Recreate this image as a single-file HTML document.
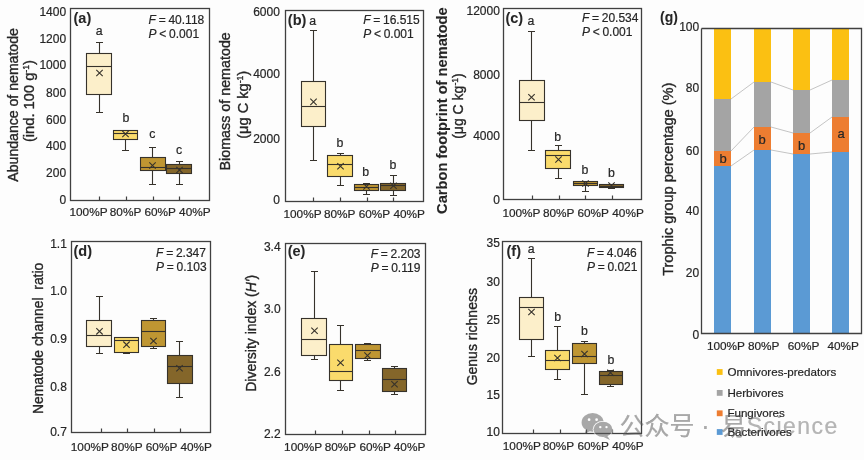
<!DOCTYPE html>
<html><head><meta charset="utf-8"><title>figure</title>
<style>html,body{margin:0;padding:0;background:#fdfdfd;} svg{display:block;}</style>
</head><body>
<svg width="864" height="460" viewBox="0 0 864 460" font-family='"Liberation Sans", Arial, sans-serif' fill="#262626">
<style>text{stroke:#262626;stroke-width:0.2px;}</style>
<rect x="0" y="0" width="864" height="460" fill="#fdfdfd"/>
<path d="M99.5 53.5V42.5M96 42.5H103" stroke="#36322b" stroke-width="1.1" fill="none"/>
<path d="M99.5 94.5V112.5M96 112.5H103" stroke="#36322b" stroke-width="1.1" fill="none"/>
<rect x="86.5" y="53.5" width="25" height="41" fill="#FCEFCA" stroke="#36322b" stroke-width="1.1"/>
<path d="M86.5 66.5H111.5" stroke="#36322b" stroke-width="1.1"/>
<path d="M96.3 69.8L102.7 76.2M96.3 76.2L102.7 69.8" stroke="#36322b" stroke-width="1.1"/>
<path d="M125.5 139.5V150.5M122 150.5H129" stroke="#36322b" stroke-width="1.1" fill="none"/>
<rect x="113.5" y="130.5" width="24" height="9" fill="#FADB6C" stroke="#36322b" stroke-width="1.1"/>
<path d="M113.5 133.5H137.5" stroke="#36322b" stroke-width="1.1"/>
<path d="M122.3 130.8L128.7 137.2M122.3 137.2L128.7 130.8" stroke="#36322b" stroke-width="1.1"/>
<path d="M152.5 157.5V147.5M149 147.5H156" stroke="#36322b" stroke-width="1.1" fill="none"/>
<path d="M152.5 170.5V184.5M149 184.5H156" stroke="#36322b" stroke-width="1.1" fill="none"/>
<rect x="140.5" y="157.5" width="25" height="13" fill="#BF9632" stroke="#36322b" stroke-width="1.1"/>
<path d="M140.5 167.5H165.5" stroke="#36322b" stroke-width="1.1"/>
<path d="M149.3 162.3L155.7 168.7M149.3 168.7L155.7 162.3" stroke="#36322b" stroke-width="1.1"/>
<path d="M179.5 164.5V161.5M176 161.5H183" stroke="#36322b" stroke-width="1.1" fill="none"/>
<path d="M179.5 173.5V184.5M176 184.5H183" stroke="#36322b" stroke-width="1.1" fill="none"/>
<rect x="166.5" y="164.5" width="25" height="9" fill="#84662A" stroke="#36322b" stroke-width="1.1"/>
<path d="M166.5 168.5H191.5" stroke="#36322b" stroke-width="1.1"/>
<path d="M176.3 166.8L182.7 173.2M176.3 173.2L182.7 166.8" stroke="#36322b" stroke-width="1.1"/>
<rect x="70.5" y="8.5" width="139" height="192" fill="none" stroke="#404040" stroke-width="1.3"/>
<path d="M99.5 200.5V196.5M126.5 200.5V196.5M153.5 200.5V196.5M179.5 200.5V196.5" stroke="#404040" stroke-width="1.2"/>
<text x="99.25" y="34.55" font-size="12.3" text-anchor="middle" >a</text>
<text x="125.9" y="122.4" font-size="12.3" text-anchor="middle" >b</text>
<text x="152.3" y="138.3" font-size="12.3" text-anchor="middle" >c</text>
<text x="179" y="154.05" font-size="12.3" text-anchor="middle" >c</text>
<text x="73.5" y="23.2" font-size="14.5" text-anchor="start" font-weight="bold" style="stroke-width:0.05px">(a)</text>
<text x="148.6" y="23.8" font-size="12" text-anchor="start" word-spacing="-0.6"><tspan font-style="italic">F</tspan> = 40.118</text>
<text x="148.6" y="37.8" font-size="12" text-anchor="start" word-spacing="-0.6"><tspan font-style="italic">P</tspan> &lt; 0.001</text>
<text x="66.1" y="15.55" font-size="12" text-anchor="end" >1400</text>
<text x="66.1" y="43.05" font-size="12" text-anchor="end" >1200</text>
<text x="66.1" y="69.1" font-size="12" text-anchor="end" >1000</text>
<text x="66.1" y="96.8" font-size="12" text-anchor="end" >800</text>
<text x="66.1" y="123.8" font-size="12" text-anchor="end" >600</text>
<text x="66.1" y="150.3" font-size="12" text-anchor="end" >400</text>
<text x="66.1" y="176.8" font-size="12" text-anchor="end" >200</text>
<text x="66.1" y="203.8" font-size="12" text-anchor="end" >0</text>
<text x="69.5" y="216.2" font-size="11.8" text-anchor="start" >100%P</text>
<text x="109.8" y="216.2" font-size="11.8" text-anchor="start" >80%P</text>
<text x="144.5" y="216.2" font-size="11.8" text-anchor="start" >60%P</text>
<text x="179.1" y="216.2" font-size="11.8" text-anchor="start" >40%P</text>
<path d="M313.5 81.5V30.5M310 30.5H317" stroke="#36322b" stroke-width="1.1" fill="none"/>
<path d="M313.5 126.5V160.5M310 160.5H317" stroke="#36322b" stroke-width="1.1" fill="none"/>
<rect x="301.5" y="81.5" width="24" height="45" fill="#FCEFCA" stroke="#36322b" stroke-width="1.1"/>
<path d="M301.5 106.5H325.5" stroke="#36322b" stroke-width="1.1"/>
<path d="M310.3 98.7L316.7 105.1M310.3 105.1L316.7 98.7" stroke="#36322b" stroke-width="1.1"/>
<path d="M340.5 155.5V153.5M337 153.5H344" stroke="#36322b" stroke-width="1.1" fill="none"/>
<path d="M340.5 176.5V185.5M337 185.5H344" stroke="#36322b" stroke-width="1.1" fill="none"/>
<rect x="327.5" y="155.5" width="25" height="21" fill="#FADB6C" stroke="#36322b" stroke-width="1.1"/>
<path d="M327.5 164.5H352.5" stroke="#36322b" stroke-width="1.1"/>
<path d="M337.3 163.05L343.7 169.45M337.3 169.45L343.7 163.05" stroke="#36322b" stroke-width="1.1"/>
<path d="M366.5 184.5V183.5M363 183.5H370" stroke="#36322b" stroke-width="1.1" fill="none"/>
<path d="M366.5 190.5V194.5M363 194.5H370" stroke="#36322b" stroke-width="1.1" fill="none"/>
<rect x="354.5" y="184.5" width="24" height="6" fill="#BF9632" stroke="#36322b" stroke-width="1.1"/>
<path d="M354.5 187.5H378.5" stroke="#36322b" stroke-width="1.1"/>
<path d="M363.3 183.3L369.7 189.7M363.3 189.7L369.7 183.3" stroke="#36322b" stroke-width="1.1"/>
<path d="M393.5 183.5V175.5M390 175.5H397" stroke="#36322b" stroke-width="1.1" fill="none"/>
<path d="M393.5 190.5V195.5M390 195.5H397" stroke="#36322b" stroke-width="1.1" fill="none"/>
<rect x="380.5" y="183.5" width="25" height="7" fill="#84662A" stroke="#36322b" stroke-width="1.1"/>
<path d="M380.5 185.5H405.5" stroke="#36322b" stroke-width="1.1"/>
<path d="M390.3 182.55L396.7 188.95M390.3 188.95L396.7 182.55" stroke="#36322b" stroke-width="1.1"/>
<rect x="285.5" y="10.5" width="138" height="191" fill="none" stroke="#404040" stroke-width="1.3"/>
<path d="M313.5 201.5V197.5M340.5 201.5V197.5M367.5 201.5V197.5M393.5 201.5V197.5" stroke="#404040" stroke-width="1.2"/>
<text x="312.75" y="25.3" font-size="12.3" text-anchor="middle" >a</text>
<text x="340" y="146.9" font-size="12.3" text-anchor="middle" >b</text>
<text x="365.75" y="175.65" font-size="12.3" text-anchor="middle" >b</text>
<text x="393" y="169.4" font-size="12.3" text-anchor="middle" >b</text>
<text x="287.8" y="24.8" font-size="14.5" text-anchor="start" font-weight="bold" style="stroke-width:0.05px">(b)</text>
<text x="363.2" y="23.8" font-size="12" text-anchor="start" word-spacing="-0.6"><tspan font-style="italic">F</tspan> = 16.515</text>
<text x="363.2" y="37.7" font-size="12" text-anchor="start" word-spacing="-0.6"><tspan font-style="italic">P</tspan> &lt; 0.001</text>
<text x="279.85" y="15.8" font-size="12" text-anchor="end" >6000</text>
<text x="279.85" y="78.05" font-size="12" text-anchor="end" >4000</text>
<text x="279.85" y="142.55" font-size="12" text-anchor="end" >2000</text>
<text x="279.85" y="204.3" font-size="12" text-anchor="end" >0</text>
<text x="283.5" y="218.3" font-size="11.8" text-anchor="start" >100%P</text>
<text x="324" y="218.3" font-size="11.8" text-anchor="start" >80%P</text>
<text x="358.7" y="218.3" font-size="11.8" text-anchor="start" >60%P</text>
<text x="393.4" y="218.3" font-size="11.8" text-anchor="start" >40%P</text>
<path d="M531.5 80.5V31.5M528 31.5H535" stroke="#36322b" stroke-width="1.1" fill="none"/>
<path d="M531.5 120.5V150.5M528 150.5H535" stroke="#36322b" stroke-width="1.1" fill="none"/>
<rect x="519.5" y="80.5" width="25" height="40" fill="#FCEFCA" stroke="#36322b" stroke-width="1.1"/>
<path d="M519.5 102.5H544.5" stroke="#36322b" stroke-width="1.1"/>
<path d="M528.3 94.05L534.7 100.45M528.3 100.45L534.7 94.05" stroke="#36322b" stroke-width="1.1"/>
<path d="M558.5 150.5V145.5M555 145.5H562" stroke="#36322b" stroke-width="1.1" fill="none"/>
<path d="M558.5 168.5V178.5M555 178.5H562" stroke="#36322b" stroke-width="1.1" fill="none"/>
<rect x="545.5" y="150.5" width="25" height="18" fill="#FADB6C" stroke="#36322b" stroke-width="1.1"/>
<path d="M545.5 155.5H570.5" stroke="#36322b" stroke-width="1.1"/>
<path d="M555.3 156.3L561.7 162.7M555.3 162.7L561.7 156.3" stroke="#36322b" stroke-width="1.1"/>
<path d="M585.5 185.5V191.5M582 191.5H589" stroke="#36322b" stroke-width="1.1" fill="none"/>
<rect x="573.5" y="181.5" width="24" height="4" fill="#BF9632" stroke="#36322b" stroke-width="1.1"/>
<path d="M573.5 183.5H597.5" stroke="#36322b" stroke-width="1.1"/>
<path d="M582.3 180.3L588.7 186.7M582.3 186.7L588.7 180.3" stroke="#36322b" stroke-width="1.1"/>
<path d="M611.5 187.5V188.5M608 188.5H615" stroke="#36322b" stroke-width="1.1" fill="none"/>
<rect x="599.5" y="184.5" width="24" height="3" fill="#84662A" stroke="#36322b" stroke-width="1.1"/>
<path d="M599.5 186.5H623.5" stroke="#36322b" stroke-width="1.1"/>
<path d="M608.3 182.3L614.7 188.7M608.3 188.7L614.7 182.3" stroke="#36322b" stroke-width="1.1"/>
<rect x="503.5" y="8.5" width="138" height="191" fill="none" stroke="#404040" stroke-width="1.3"/>
<path d="M532.5 199.5V195.5M559.5 199.5V195.5M585.5 199.5V195.5M612.5 199.5V195.5" stroke="#404040" stroke-width="1.2"/>
<text x="531" y="25.05" font-size="12.3" text-anchor="middle" >a</text>
<text x="557.75" y="141.4" font-size="12.3" text-anchor="middle" >b</text>
<text x="585" y="174.2" font-size="12.3" text-anchor="middle" >b</text>
<text x="611.5" y="176.6" font-size="12.3" text-anchor="middle" >b</text>
<text x="505.4" y="22.9" font-size="14.5" text-anchor="start" font-weight="bold" style="stroke-width:0.05px">(c)</text>
<text x="581.9" y="22.4" font-size="12" text-anchor="start" word-spacing="-0.6"><tspan font-style="italic">F</tspan> = 20.534</text>
<text x="581.9" y="36.2" font-size="12" text-anchor="start" word-spacing="-0.6"><tspan font-style="italic">P</tspan> &lt; 0.001</text>
<text x="499.85" y="14.8" font-size="12" text-anchor="end" >12000</text>
<text x="499.85" y="78.55" font-size="12" text-anchor="end" >8000</text>
<text x="499.85" y="140.3" font-size="12" text-anchor="end" >4000</text>
<text x="499.85" y="203.8" font-size="12" text-anchor="end" >0</text>
<text x="502.4" y="216.5" font-size="11.8" text-anchor="start" >100%P</text>
<text x="542.9" y="216.5" font-size="11.8" text-anchor="start" >80%P</text>
<text x="577.4" y="216.5" font-size="11.8" text-anchor="start" >60%P</text>
<text x="612.3" y="216.5" font-size="11.8" text-anchor="start" >40%P</text>
<path d="M99.5 320.5V296.5M96 296.5H103" stroke="#36322b" stroke-width="1.1" fill="none"/>
<path d="M99.5 346.5V353.5M96 353.5H103" stroke="#36322b" stroke-width="1.1" fill="none"/>
<rect x="86.5" y="320.5" width="25" height="26" fill="#FCEFCA" stroke="#36322b" stroke-width="1.1"/>
<path d="M86.5 335.5H111.5" stroke="#36322b" stroke-width="1.1"/>
<path d="M96.3 328.1L102.7 334.5M96.3 334.5L102.7 328.1" stroke="#36322b" stroke-width="1.1"/>
<path d="M126.5 352.5V353.5M123 353.5H130" stroke="#36322b" stroke-width="1.1" fill="none"/>
<rect x="114.5" y="337.5" width="24" height="15" fill="#FADB6C" stroke="#36322b" stroke-width="1.1"/>
<path d="M114.5 340.5H138.5" stroke="#36322b" stroke-width="1.1"/>
<path d="M123.3 341.5L129.7 347.9M123.3 347.9L129.7 341.5" stroke="#36322b" stroke-width="1.1"/>
<path d="M153.5 320.5V318.5M150 318.5H157" stroke="#36322b" stroke-width="1.1" fill="none"/>
<path d="M153.5 346.5V348.5M150 348.5H157" stroke="#36322b" stroke-width="1.1" fill="none"/>
<rect x="141.5" y="320.5" width="24" height="26" fill="#BF9632" stroke="#36322b" stroke-width="1.1"/>
<path d="M141.5 331.5H165.5" stroke="#36322b" stroke-width="1.1"/>
<path d="M150.3 337.8L156.7 344.2M150.3 344.2L156.7 337.8" stroke="#36322b" stroke-width="1.1"/>
<path d="M179.5 355.5V341.5M176 341.5H183" stroke="#36322b" stroke-width="1.1" fill="none"/>
<path d="M179.5 383.5V397.5M176 397.5H183" stroke="#36322b" stroke-width="1.1" fill="none"/>
<rect x="167.5" y="355.5" width="25" height="28" fill="#84662A" stroke="#36322b" stroke-width="1.1"/>
<path d="M167.5 366.5H192.5" stroke="#36322b" stroke-width="1.1"/>
<path d="M176.3 365.05L182.7 371.45M176.3 371.45L182.7 365.05" stroke="#36322b" stroke-width="1.1"/>
<rect x="71.5" y="241.5" width="139" height="191" fill="none" stroke="#404040" stroke-width="1.3"/>
<path d="M101.5 432.5V428.5M127.5 432.5V428.5M154.5 432.5V428.5M180.5 432.5V428.5" stroke="#404040" stroke-width="1.2"/>
<text x="73.5" y="255.7" font-size="14.5" text-anchor="start" font-weight="bold" style="stroke-width:0.05px">(d)</text>
<text x="156.1" y="256.6" font-size="12" text-anchor="start" word-spacing="-0.6"><tspan font-style="italic">F</tspan> = 2.347</text>
<text x="156.1" y="270.8" font-size="12" text-anchor="start" word-spacing="-0.6"><tspan font-style="italic">P</tspan> = 0.103</text>
<text x="66.85" y="248.05" font-size="12" text-anchor="end" >1.1</text>
<text x="66.85" y="295.05" font-size="12" text-anchor="end" >1.0</text>
<text x="66.85" y="343.05" font-size="12" text-anchor="end" >0.9</text>
<text x="66.85" y="390.55" font-size="12" text-anchor="end" >0.8</text>
<text x="66.85" y="435.55" font-size="12" text-anchor="end" >0.7</text>
<text x="70.8" y="450.7" font-size="11.8" text-anchor="start" >100%P</text>
<text x="111.1" y="450.7" font-size="11.8" text-anchor="start" >80%P</text>
<text x="145.8" y="450.7" font-size="11.8" text-anchor="start" >60%P</text>
<text x="180.5" y="450.7" font-size="11.8" text-anchor="start" >40%P</text>
<path d="M314.5 318.5V271.5M311 271.5H318" stroke="#36322b" stroke-width="1.1" fill="none"/>
<path d="M314.5 355.5V359.5M311 359.5H318" stroke="#36322b" stroke-width="1.1" fill="none"/>
<rect x="301.5" y="318.5" width="25" height="37" fill="#FCEFCA" stroke="#36322b" stroke-width="1.1"/>
<path d="M301.5 339.5H326.5" stroke="#36322b" stroke-width="1.1"/>
<path d="M311.3 327.55L317.7 333.95M311.3 333.95L317.7 327.55" stroke="#36322b" stroke-width="1.1"/>
<path d="M340.5 344.5V325.5M337 325.5H344" stroke="#36322b" stroke-width="1.1" fill="none"/>
<path d="M340.5 380.5V390.5M337 390.5H344" stroke="#36322b" stroke-width="1.1" fill="none"/>
<rect x="329.5" y="344.5" width="23" height="36" fill="#FADB6C" stroke="#36322b" stroke-width="1.1"/>
<path d="M329.5 371.5H352.5" stroke="#36322b" stroke-width="1.1"/>
<path d="M337.3 359.55L343.7 365.95M337.3 365.95L343.7 359.55" stroke="#36322b" stroke-width="1.1"/>
<path d="M367.5 344.5V343.5M364 343.5H371" stroke="#36322b" stroke-width="1.1" fill="none"/>
<path d="M367.5 358.5V360.5M364 360.5H371" stroke="#36322b" stroke-width="1.1" fill="none"/>
<rect x="355.5" y="344.5" width="25" height="14" fill="#BF9632" stroke="#36322b" stroke-width="1.1"/>
<path d="M355.5 350.5H380.5" stroke="#36322b" stroke-width="1.1"/>
<path d="M364.3 352.3L370.7 358.7M364.3 358.7L370.7 352.3" stroke="#36322b" stroke-width="1.1"/>
<path d="M394.5 368.5V366.5M391 366.5H398" stroke="#36322b" stroke-width="1.1" fill="none"/>
<path d="M394.5 391.5V394.5M391 394.5H398" stroke="#36322b" stroke-width="1.1" fill="none"/>
<rect x="382.5" y="368.5" width="24" height="23" fill="#84662A" stroke="#36322b" stroke-width="1.1"/>
<path d="M382.5 379.5H406.5" stroke="#36322b" stroke-width="1.1"/>
<path d="M391.3 381.05L397.7 387.45M391.3 387.45L397.7 381.05" stroke="#36322b" stroke-width="1.1"/>
<rect x="285.5" y="243.5" width="140" height="191" fill="none" stroke="#404040" stroke-width="1.3"/>
<path d="M315.5 434.5V430.5M342.5 434.5V430.5M369.5 434.5V430.5M395.5 434.5V430.5" stroke="#404040" stroke-width="1.2"/>
<text x="287.7" y="256.4" font-size="14.5" text-anchor="start" font-weight="bold" style="stroke-width:0.05px">(e)</text>
<text x="370.7" y="258.2" font-size="12" text-anchor="start" word-spacing="-0.6"><tspan font-style="italic">F</tspan> = 2.203</text>
<text x="370.7" y="272.4" font-size="12" text-anchor="start" word-spacing="-0.6"><tspan font-style="italic">P</tspan> = 0.119</text>
<text x="280.6" y="250.8" font-size="12" text-anchor="end" >3.4</text>
<text x="280.6" y="312.55" font-size="12" text-anchor="end" >3.0</text>
<text x="280.6" y="375.55" font-size="12" text-anchor="end" >2.6</text>
<text x="280.6" y="437.55" font-size="12" text-anchor="end" >2.2</text>
<text x="284.1" y="451" font-size="11.8" text-anchor="start" >100%P</text>
<text x="324.7" y="451" font-size="11.8" text-anchor="start" >80%P</text>
<text x="359.4" y="451" font-size="11.8" text-anchor="start" >60%P</text>
<text x="393.8" y="451" font-size="11.8" text-anchor="start" >40%P</text>
<path d="M531.5 297.5V258.5M528 258.5H535" stroke="#36322b" stroke-width="1.1" fill="none"/>
<path d="M531.5 339.5V356.5M528 356.5H535" stroke="#36322b" stroke-width="1.1" fill="none"/>
<rect x="519.5" y="297.5" width="24" height="42" fill="#FCEFCA" stroke="#36322b" stroke-width="1.1"/>
<path d="M519.5 307.5H543.5" stroke="#36322b" stroke-width="1.1"/>
<path d="M528.3 308.8L534.7 315.2M528.3 315.2L534.7 308.8" stroke="#36322b" stroke-width="1.1"/>
<path d="M557.5 350.5V326.5M554 326.5H561" stroke="#36322b" stroke-width="1.1" fill="none"/>
<path d="M557.5 369.5V379.5M554 379.5H561" stroke="#36322b" stroke-width="1.1" fill="none"/>
<rect x="545.5" y="350.5" width="24" height="19" fill="#FADB6C" stroke="#36322b" stroke-width="1.1"/>
<path d="M545.5 360.5H569.5" stroke="#36322b" stroke-width="1.1"/>
<path d="M554.3 354.8L560.7 361.2M554.3 361.2L560.7 354.8" stroke="#36322b" stroke-width="1.1"/>
<path d="M584.5 343.5V341.5M581 341.5H588" stroke="#36322b" stroke-width="1.1" fill="none"/>
<path d="M584.5 363.5V394.5M581 394.5H588" stroke="#36322b" stroke-width="1.1" fill="none"/>
<rect x="572.5" y="343.5" width="24" height="20" fill="#BF9632" stroke="#36322b" stroke-width="1.1"/>
<path d="M572.5 356.5H596.5" stroke="#36322b" stroke-width="1.1"/>
<path d="M581.3 350.8L587.7 357.2M581.3 357.2L587.7 350.8" stroke="#36322b" stroke-width="1.1"/>
<path d="M610.5 371.5V370.5M607 370.5H614" stroke="#36322b" stroke-width="1.1" fill="none"/>
<path d="M610.5 384.5V386.5M607 386.5H614" stroke="#36322b" stroke-width="1.1" fill="none"/>
<rect x="599.5" y="371.5" width="23" height="13" fill="#84662A" stroke="#36322b" stroke-width="1.1"/>
<path d="M599.5 375.5H622.5" stroke="#36322b" stroke-width="1.1"/>
<path d="M607.3 369.55L613.7 375.95M607.3 375.95L613.7 369.55" stroke="#36322b" stroke-width="1.1"/>
<rect x="502.5" y="241.5" width="139" height="192" fill="none" stroke="#404040" stroke-width="1.3"/>
<path d="M533.5 433.5V429.5M560.5 433.5V429.5M586.5 433.5V429.5M612.5 433.5V429.5" stroke="#404040" stroke-width="1.2"/>
<text x="531.25" y="253.3" font-size="12.3" text-anchor="middle" >a</text>
<text x="557.75" y="321.4" font-size="12.3" text-anchor="middle" >b</text>
<text x="584.5" y="335.15" font-size="12.3" text-anchor="middle" >b</text>
<text x="611" y="363.65" font-size="12.3" text-anchor="middle" >b</text>
<text x="506.5" y="256.1" font-size="14.5" text-anchor="start" font-weight="bold" style="stroke-width:0.05px">(f)</text>
<text x="586.9" y="256.6" font-size="12" text-anchor="start" word-spacing="-0.6"><tspan font-style="italic">F</tspan> = 4.046</text>
<text x="586.9" y="270.8" font-size="12" text-anchor="start" word-spacing="-0.6"><tspan font-style="italic">P</tspan> = 0.021</text>
<text x="499.85" y="247.3" font-size="12" text-anchor="end" >35</text>
<text x="499.85" y="285.55" font-size="12" text-anchor="end" >30</text>
<text x="499.85" y="323.55" font-size="12" text-anchor="end" >25</text>
<text x="499.85" y="361.55" font-size="12" text-anchor="end" >20</text>
<text x="499.85" y="398.7" font-size="12" text-anchor="end" >15</text>
<text x="499.85" y="435.9" font-size="12" text-anchor="end" >10</text>
<text x="502.8" y="449.8" font-size="11.8" text-anchor="start" >100%P</text>
<text x="542.7" y="449.8" font-size="11.8" text-anchor="start" >80%P</text>
<text x="577.5" y="449.8" font-size="11.8" text-anchor="start" >60%P</text>
<text x="612.2" y="449.8" font-size="11.8" text-anchor="start" >40%P</text>
<text transform="translate(18.2,104.9) rotate(-90)" x="0" y="0" font-size="14.1" text-anchor="middle" style="stroke-width:0.35px" >Abundance of nematode</text>
<text transform="translate(33.8,101.1) rotate(-90)" x="0" y="0" font-size="14.7" text-anchor="middle" style="stroke-width:0.35px" >(ind. 100 g<tspan font-size="8.5" dy="-5">-1</tspan><tspan dy="5">)</tspan></text>
<text transform="translate(230.3,101.35) rotate(-90)" x="0" y="0" font-size="14.3" text-anchor="middle" style="stroke-width:0.35px" >Biomass of nematode</text>
<text transform="translate(247.7,104.8) rotate(-90)" x="0" y="0" font-size="14.6" text-anchor="middle" style="stroke-width:0.35px" >(μg C kg<tspan font-size="8.5" dy="-5">-1</tspan><tspan dy="5">)</tspan></text>
<text transform="translate(447,110.6) rotate(-90)" x="0" y="0" font-size="14.65" text-anchor="middle" style="stroke-width:0.1px" font-weight="bold">Carbon footprint of nematode</text>
<text transform="translate(462.8,106.1) rotate(-90)" x="0" y="0" font-size="14" text-anchor="middle" style="stroke-width:0.35px" >(μg C kg<tspan font-size="8.5" dy="-5">-1</tspan><tspan dy="5">)</tspan></text>
<text transform="translate(42.8,338.4) rotate(-90)" x="0" y="0" font-size="13.9" text-anchor="middle" style="stroke-width:0.35px" >Nematode channel&#160; ratio</text>
<text transform="translate(255.8,333.3) rotate(-90)" x="0" y="0" font-size="14" text-anchor="middle" style="stroke-width:0.35px" >Diversity index (<tspan font-style="italic">H'</tspan>)</text>
<text transform="translate(476.8,336.7) rotate(-90)" x="0" y="0" font-size="14" text-anchor="middle" style="stroke-width:0.35px" >Genus richness</text>
<text transform="translate(673.4,179.2) rotate(-90)" x="0" y="0" font-size="14.6" text-anchor="middle" style="stroke-width:0.35px" >Trophic group percentage (%)</text>
<rect x="714" y="28.25" width="17" height="70.75" fill="#FBC012"/>
<rect x="714" y="99" width="17" height="52" fill="#A4A4A4"/>
<rect x="714" y="151" width="17" height="15" fill="#ED7D31"/>
<rect x="714" y="166" width="17" height="167" fill="#5B9AD4"/>
<rect x="754" y="28.25" width="17" height="53.75" fill="#FBC012"/>
<rect x="754" y="82" width="17" height="45" fill="#A4A4A4"/>
<rect x="754" y="127" width="17" height="23" fill="#ED7D31"/>
<rect x="754" y="150" width="17" height="183" fill="#5B9AD4"/>
<rect x="793" y="28.25" width="17" height="61.75" fill="#FBC012"/>
<rect x="793" y="90" width="17" height="43" fill="#A4A4A4"/>
<rect x="793" y="133" width="17" height="21" fill="#ED7D31"/>
<rect x="793" y="154" width="17" height="179" fill="#5B9AD4"/>
<rect x="832" y="28.25" width="17" height="51.75" fill="#FBC012"/>
<rect x="832" y="80" width="17" height="37" fill="#A4A4A4"/>
<rect x="832" y="117" width="17" height="35" fill="#ED7D31"/>
<rect x="832" y="152" width="17" height="181" fill="#5B9AD4"/>
<path d="M731 99L754 82M771 82L793 90M810 90L832 80" stroke="#bdbdbd" stroke-width="0.9" fill="none"/>
<path d="M731 151L754 127M771 127L793 133M810 133L832 117" stroke="#bdbdbd" stroke-width="0.9" fill="none"/>
<path d="M731 166L754 150M771 150L793 154M810 154L832 152" stroke="#bdbdbd" stroke-width="0.9" fill="none"/>
<path d="M701.5 28.5V333.5H861.5V28.5H701.5" fill="none" stroke="#404040" stroke-width="1.3"/>
<text x="723" y="163.2" font-size="13" text-anchor="middle" >b</text>
<text x="762" y="143.5" font-size="13" text-anchor="middle" >b</text>
<text x="801.5" y="149.5" font-size="13" text-anchor="middle" >b</text>
<text x="841" y="137.65" font-size="13" text-anchor="middle" >a</text>
<text x="660.1" y="21.7" font-size="14" text-anchor="start" font-weight="bold" style="stroke-width:0.05px">(g)</text>
<text x="699.2" y="30.55" font-size="12" text-anchor="end" >100</text>
<text x="699.2" y="91.95" font-size="12" text-anchor="end" >80</text>
<text x="699.2" y="154.6" font-size="12" text-anchor="end" >60</text>
<text x="699.2" y="215.4" font-size="12" text-anchor="end" >40</text>
<text x="699.2" y="277.3" font-size="12" text-anchor="end" >20</text>
<text x="699.2" y="338.55" font-size="12" text-anchor="end" >0</text>
<text x="706.9" y="350" font-size="11.8" text-anchor="start" >100%P</text>
<text x="747.9" y="350" font-size="11.8" text-anchor="start" >80%P</text>
<text x="787.8" y="350" font-size="11.8" text-anchor="start" >60%P</text>
<text x="827.5" y="350" font-size="11.8" text-anchor="start" >40%P</text>
<rect x="716.8" y="369.1" width="5.8" height="5.8" fill="#FBC012"/>
<text x="727.4" y="376" font-size="11.6" text-anchor="start" >Omnivores-predators</text>
<rect x="716.8" y="390" width="5.8" height="5.8" fill="#A4A4A4"/>
<text x="727.4" y="396.9" font-size="11.6" text-anchor="start" >Herbivores</text>
<rect x="716.8" y="410.4" width="5.8" height="5.8" fill="#ED7D31"/>
<text x="727.4" y="417.3" font-size="11.6" text-anchor="start" >Fungivores</text>
<rect x="716.8" y="429.1" width="5.8" height="5.8" fill="#5B9AD4"/>
<text x="727.4" y="436" font-size="11.6" text-anchor="start" >Bacterivores</text>
<g opacity="0.52" style="stroke:none">
<ellipse cx="592.6" cy="422.4" rx="11" ry="9.4" fill="#5c5c5c"/>
<path d="M586 429.5 L584.5 434 L590 431 Z" fill="#5c5c5c"/>
<ellipse cx="603" cy="429.4" rx="10.3" ry="8.4" fill="#fdfdfd"/>
<ellipse cx="603" cy="429.4" rx="9.5" ry="7.7" fill="#5c5c5c"/>
<path d="M607 435.5 L610 440 L603.5 437 Z" fill="#5c5c5c"/>
</g>
<g fill="#fdfdfd" style="stroke:none"><circle cx="589.1" cy="419.7" r="1.35"/><circle cx="596.6" cy="419.7" r="1.35"/><circle cx="600.3" cy="427.1" r="1.2"/><circle cx="606.5" cy="427.1" r="1.2"/></g>
<g fill="#5c5c5c" opacity="0.52" style="stroke:none" font-family='"Liberation Sans", "Noto Sans CJK SC", sans-serif'>
<text x="619.6" y="435.4" font-size="25">公众号</text>
<text x="701.3" y="435" font-size="25">·</text>
<text x="721" y="435.2" font-size="25">易</text>
<text x="746.8" y="434" font-size="23" letter-spacing="1.45" opacity="0.85">Science</text>
</g>
</svg>
</body></html>
